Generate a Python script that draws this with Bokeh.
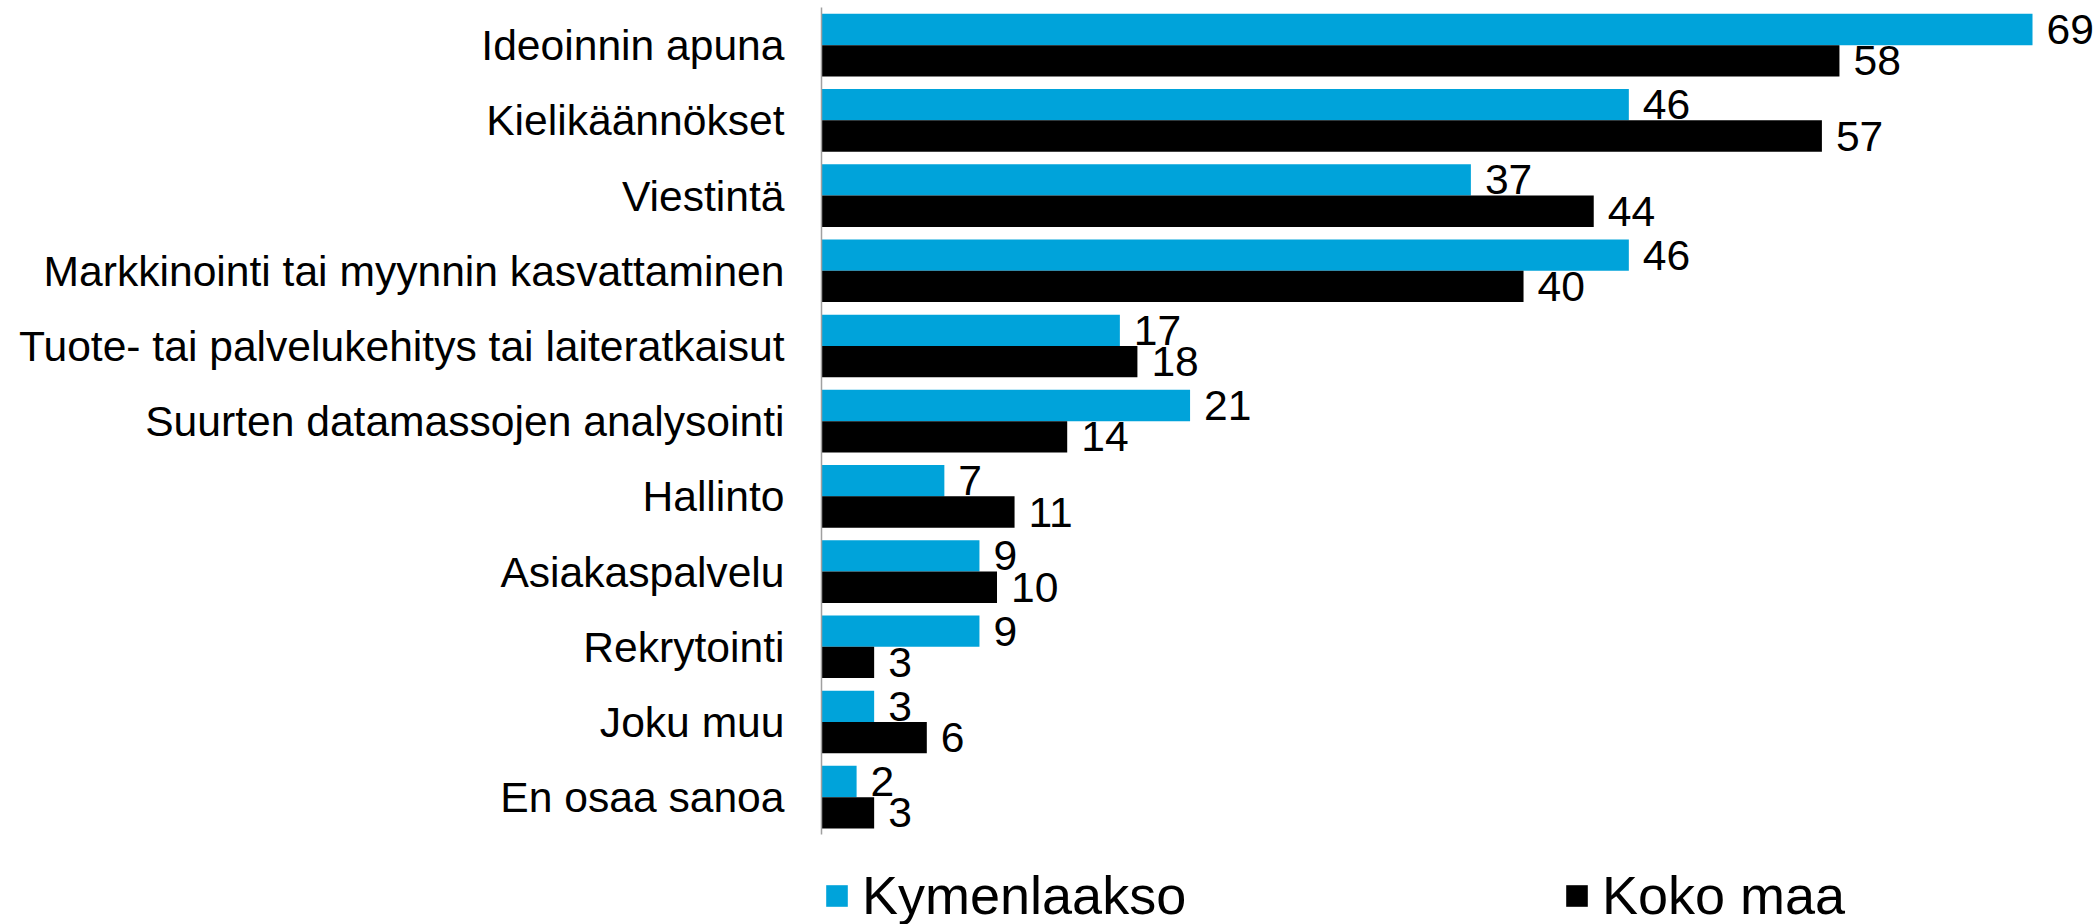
from bokeh.plotting import figure
from bokeh.models import Range1d, ColumnDataSource, Legend, LegendItem, FixedTicker
from bokeh.transform import dodge
from bokeh.core.properties import value
from bokeh.embed import file_html
from bokeh.resources import INLINE

categories = [
    "Ideoinnin apuna",
    "Kielikäännökset",
    "Viestintä",
    "Markkinointi tai myynnin kasvattaminen",
    "Tuote- tai palvelukehitys tai laiteratkaisut",
    "Suurten datamassojen analysointi",
    "Hallinto",
    "Asiakaspalvelu",
    "Rekrytointi",
    "Joku muu",
    "En osaa sanoa",
]
kymenlaakso = [69, 46, 37, 46, 17, 21, 7, 9, 9, 3, 2]
koko_maa = [58, 57, 44, 40, 18, 14, 11, 10, 3, 6, 3]
series_names = ["Kymenlaakso", "Koko maa"]
colors = ["#00A3DA", "#000000"]

FONT = "Liberation Sans"

n = len(categories)
ypos = [n - 1 - i for i in range(n)]  # first category at the top

source = ColumnDataSource(dict(
    y=ypos,
    k=kymenlaakso,
    m=koko_maa,
    k_label=[str(v) for v in kymenlaakso],
    m_label=[str(v) for v in koko_maa],
))

p = figure(
    width=2098, height=924,
    y_range=Range1d(-1.693, 10.594),
    x_range=Range1d(0, 72.76),
    x_axis_location=None,
    output_backend="svg", toolbar_location=None,
    min_border_left=821, min_border_right=0,
    min_border_top=0, min_border_bottom=0,
)
p.outline_line_color = None
p.xgrid.visible = False
p.ygrid.visible = False

off = 0.2083
bh = 0.4167
r1 = p.hbar(y=dodge("y", off), left=0, right="k", height=bh,
            fill_color=colors[0], line_color=None, source=source)
r2 = p.hbar(y=dodge("y", -off), left=0, right="m", height=bh,
            fill_color=colors[1], line_color=None, source=source)

for col, lab, o in [("k", "k_label", off), ("m", "m_label", -off)]:
    p.text(x=col, y=dodge("y", o), text=lab, source=source,
           x_offset=14, text_align="left", text_baseline="middle",
           text_font=value(FONT), text_font_size="42.6px", text_color="#000000")

ax = p.yaxis[0]
ax.ticker = FixedTicker(ticks=ypos)
ax.major_label_overrides = {y: c for y, c in zip(ypos, categories)}
ax.bounds = (-0.5, n - 0.5)
ax.axis_line_color = "#A0A0A0"
ax.axis_line_width = 1.5
ax.major_tick_line_color = None
ax.minor_tick_line_color = None
ax.major_tick_in = 0
ax.major_tick_out = 0
ax.major_label_standoff = 37
ax.major_label_text_font = FONT
ax.major_label_text_font_size = "42.6px"
ax.major_label_text_color = "#000000"

for name, rend, x in [(series_names[0], r1, 2), (series_names[1], r2, 742)]:
    leg = Legend(items=[LegendItem(label=name, renderers=[rend])],
                 location=(x, -2), orientation="horizontal",
                 glyph_width=27, glyph_height=27, label_standoff=12,
                 label_text_font=FONT, label_text_font_size="54px",
                 label_text_color="#000000",
                 padding=0, margin=0, border_line_color=None,
                 background_fill_alpha=0)
    p.add_layout(leg, "center")

open("out.html", "w").write(file_html(p, INLINE))
